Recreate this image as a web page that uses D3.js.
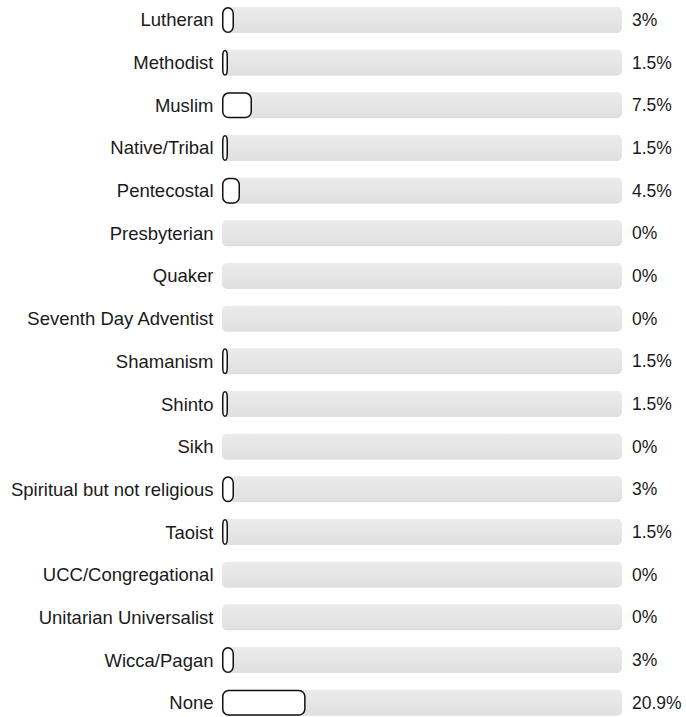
<!DOCTYPE html>
<html>
<head>
<meta charset="utf-8">
<script src="https://cdn.jsdelivr.net/npm/d3@7"></script>
<style>
  html, body { margin: 0; padding: 0; background: #fff; }
  svg { display: block; }
  text { font-family: "Liberation Sans", Arial, sans-serif; fill: #1a1a1a; }
  .cat { font-size: 18.5px; }
  .val { font-size: 17.5px; }
</style>
</head>
<body>
<svg id="chart" width="686" height="717"></svg>
<script>
// Religious affiliation shares (percent of respondents)
const categories = [
  "Lutheran", "Methodist", "Muslim", "Native/Tribal", "Pentecostal",
  "Presbyterian", "Quaker", "Seventh Day Adventist", "Shamanism", "Shinto",
  "Sikh", "Spiritual but not religious", "Taoist", "UCC/Congregational",
  "Unitarian Universalist", "Wicca/Pagan", "None"
];
const values = [3, 1.5, 7.5, 1.5, 4.5, 0, 0, 0, 1.5, 1.5, 0, 3, 1.5, 0, 0, 3, 20.9];
const valueLabels = ["3%", "1.5%", "7.5%", "1.5%", "4.5%", "0%", "0%", "0%", "1.5%", "1.5%",
  "0%", "3%", "1.5%", "0%", "0%", "3%", "20.9%"];

const svg = d3.select("#chart");

const x = d3.scaleLinear().domain([0, 100]).range([222, 622]);
const y = d3.scalePoint().domain(categories).range([20, 702.7]);
const barH = 26;

const defs = svg.append("defs");
const grad = defs.append("linearGradient")
  .attr("id", "track").attr("x1", 0).attr("y1", 0).attr("x2", 0).attr("y2", 1);
grad.append("stop").attr("offset", "0%").attr("stop-color", "#ebebeb");
grad.append("stop").attr("offset", "100%").attr("stop-color", "#e0e0e0");

const rows = svg.selectAll("g.row")
  .data(categories.map((c, i) => ({ cat: c, v: values[i], lbl: valueLabels[i] })))
  .join("g")
  .attr("class", "row")
  .attr("transform", d => `translate(0,${y(d.cat)})`);

// background track
rows.append("rect")
  .attr("x", x(0))
  .attr("y", -barH / 2)
  .attr("width", x(100) - x(0))
  .attr("height", barH)
  .attr("rx", 5).attr("ry", 5)
  .attr("fill", "url(#track)");

// value bar
rows.filter(d => d.v > 0).append("rect")
  .attr("x", x(0) + 0.75)
  .attr("y", -barH / 2 + 0.75)
  .attr("width", d => Math.max(x(d.v) - x(0) - 1.5, 1))
  .attr("height", barH - 1.5)
  .attr("rx", d => Math.min(6, (x(d.v) - x(0)) / 2))
  .attr("ry", 6)
  .attr("fill", "#fff")
  .attr("stroke", "#111")
  .attr("stroke-width", 1.5);

// category label
rows.append("text")
  .attr("class", "cat")
  .attr("x", 213.5)
  .attr("dy", "0.35em")
  .attr("text-anchor", "end")
  .text(d => d.cat);

// value label
rows.append("text")
  .attr("class", "val")
  .attr("x", 632)
  .attr("dy", "0.35em")
  .text(d => d.lbl);
</script>
</body>
</html>
